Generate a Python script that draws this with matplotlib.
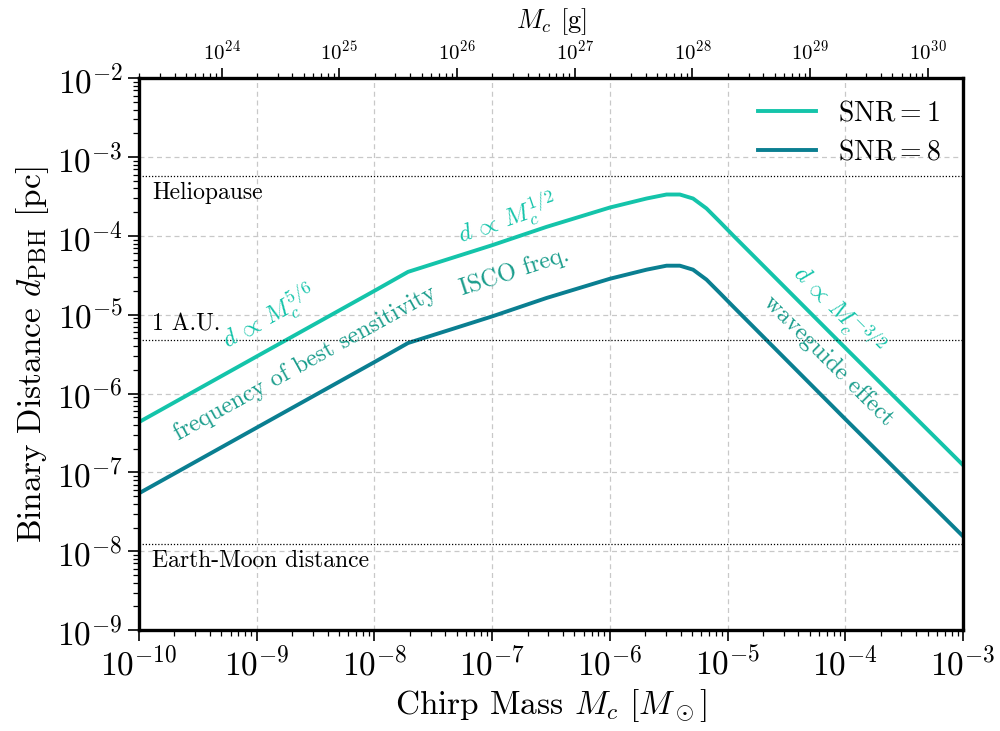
import numpy as np
import matplotlib
matplotlib.use("Agg")
import matplotlib.pyplot as plt
from matplotlib.ticker import LogLocator

plt.rcParams.update({
    "font.family": "serif",
    "font.serif": ["cmr10", "DejaVu Serif"],
    "mathtext.fontset": "cm",
    "axes.formatter.use_mathtext": True,
    "axes.unicode_minus": True,
})

# Chirp mass in solar masses
mass = [1e-10, 1e-9, 1e-8, 1.93e-8, 1e-7, 2.89e-7, 1e-6, 2.05e-6, 3.03e-6,
        3.93e-6, 5.09e-6, 6.62e-6, 8.59e-6, 1.11e-5, 1e-4, 1e-3]
# Maximum binary distance [pc]
dist_snr1 = [4.35e-7, 2.96e-6, 2.01e-5, 3.50e-5, 7.62e-5, 1.30e-4, 2.29e-4, 2.98e-4,
             3.35e-4, 3.35e-4, 2.98e-4, 2.23e-4, 1.51e-4, 1.02e-4, 3.80e-6, 1.24e-7]
dist_snr8 = [5.44e-8, 3.70e-7, 2.51e-6, 4.38e-6, 9.53e-6, 1.63e-5, 2.86e-5, 3.73e-5,
             4.19e-5, 4.19e-5, 3.73e-5, 2.79e-5, 1.89e-5, 1.28e-5, 4.75e-7, 1.55e-8]

# Reference distances [pc]
ref_names = ["Heliopause", "1 A.U.", "Earth-Moon distance"]
ref_dists = [5.8e-4, 4.85e-6, 1.25e-8]

# Tick positions on the gram axis
gram_ticks = [1e24, 1e25, 1e26, 1e27, 1e28, 1e29, 1e30]

MSUN_G = 1.989e33

c_light = "#14c4aa"
c_dark = "#0a7f91"
c_text = "#1a9d8c"

fig = plt.figure(figsize=(10, 7.31), dpi=100)
ax = fig.add_axes([0.139, 0.138, 0.824, 0.755])

ax.plot(mass, dist_snr1, color=c_light, lw=2.8, label=r"$\mathrm{SNR} = 1$")
ax.plot(mass, dist_snr8, color=c_dark, lw=2.8, label=r"$\mathrm{SNR} = 8$")

ax.set_xscale("log")
ax.set_yscale("log")
ax.set_xlim(1e-10, 1e-3)
ax.set_ylim(1e-9, 1e-2)

ax.grid(True, which="major", ls=(0, (4, 3)), color="#c8c8c8", lw=0.9)

for d in ref_dists:
    ax.axhline(d, color="black", ls=(0, (1, 1.5)), lw=0.9)

ax.text(1.3e-10, ref_dists[0] * 0.84, ref_names[0], fontsize=17, va="top", ha="left")
ax.text(1.3e-10, ref_dists[1] * 1.12, ref_names[1], fontsize=17, va="bottom", ha="left")
ax.text(1.3e-10, ref_dists[2] * 0.84, ref_names[2], fontsize=17, va="top", ha="left")

ax.text(1.28e-9, 9.3e-6, r"$d \,\propto\, M_c^{5/6}$", color=c_light, fontsize=18,
        rotation=29, ha="center", va="center")
ax.text(2.6e-9, 2.45e-6, "frequency of best sensitivity", color=c_text, fontsize=17.5,
        rotation=29, ha="center", va="center")
ax.text(1.35e-7, 1.6e-4, r"$d \,\propto\, M_c^{1/2}$", color=c_light, fontsize=18,
        rotation=19, ha="center", va="center")
ax.text(1.55e-7, 3.5e-5, "ISCO freq.", color=c_text, fontsize=17.5,
        rotation=18, ha="center", va="center")
ax.text(8.63e-5, 1.14e-5, r"$d \,\propto\, M_c^{-3/2}$", color=c_light, fontsize=18,
        rotation=-45, ha="center", va="center")
ax.text(7.24e-5, 2.65e-6, "waveguide effect", color=c_text, fontsize=17.5,
        rotation=-45, ha="center", va="center")

ax.set_xlabel(r"Chirp Mass $M_c$ [$M_\odot$]", fontsize=24, labelpad=4)
ax.set_ylabel(r"Binary Distance $d_{\rm PBH}$ [pc]", fontsize=24, labelpad=4)

ax.tick_params(axis="both", which="major", direction="out", length=8, width=1.2,
               labelsize=24, top=False, right=False)
ax.tick_params(axis="both", which="minor", direction="out", length=4, width=0.9,
               top=False, right=False)
for s in ax.spines.values():
    s.set_linewidth(2.4)

sec = ax.secondary_xaxis("top", functions=(lambda m: m * MSUN_G, lambda g: g / MSUN_G))
sec.set_xscale("log")
sec.set_xticks(gram_ticks)
sec.xaxis.set_minor_locator(LogLocator(base=10, subs=np.arange(2, 10), numticks=50))
sec.tick_params(axis="x", which="major", direction="out", length=7, width=1.2, labelsize=15)
sec.tick_params(axis="x", which="minor", direction="out", length=3.5, width=0.9)
sec.set_xlabel(r"$M_c$ [g]", fontsize=19, labelpad=8)

leg = ax.legend(loc="upper right", frameon=False, fontsize=20, handlelength=2.1,
                borderaxespad=0.4, labelspacing=0.45)

fig.savefig("out.png", dpi=100)
